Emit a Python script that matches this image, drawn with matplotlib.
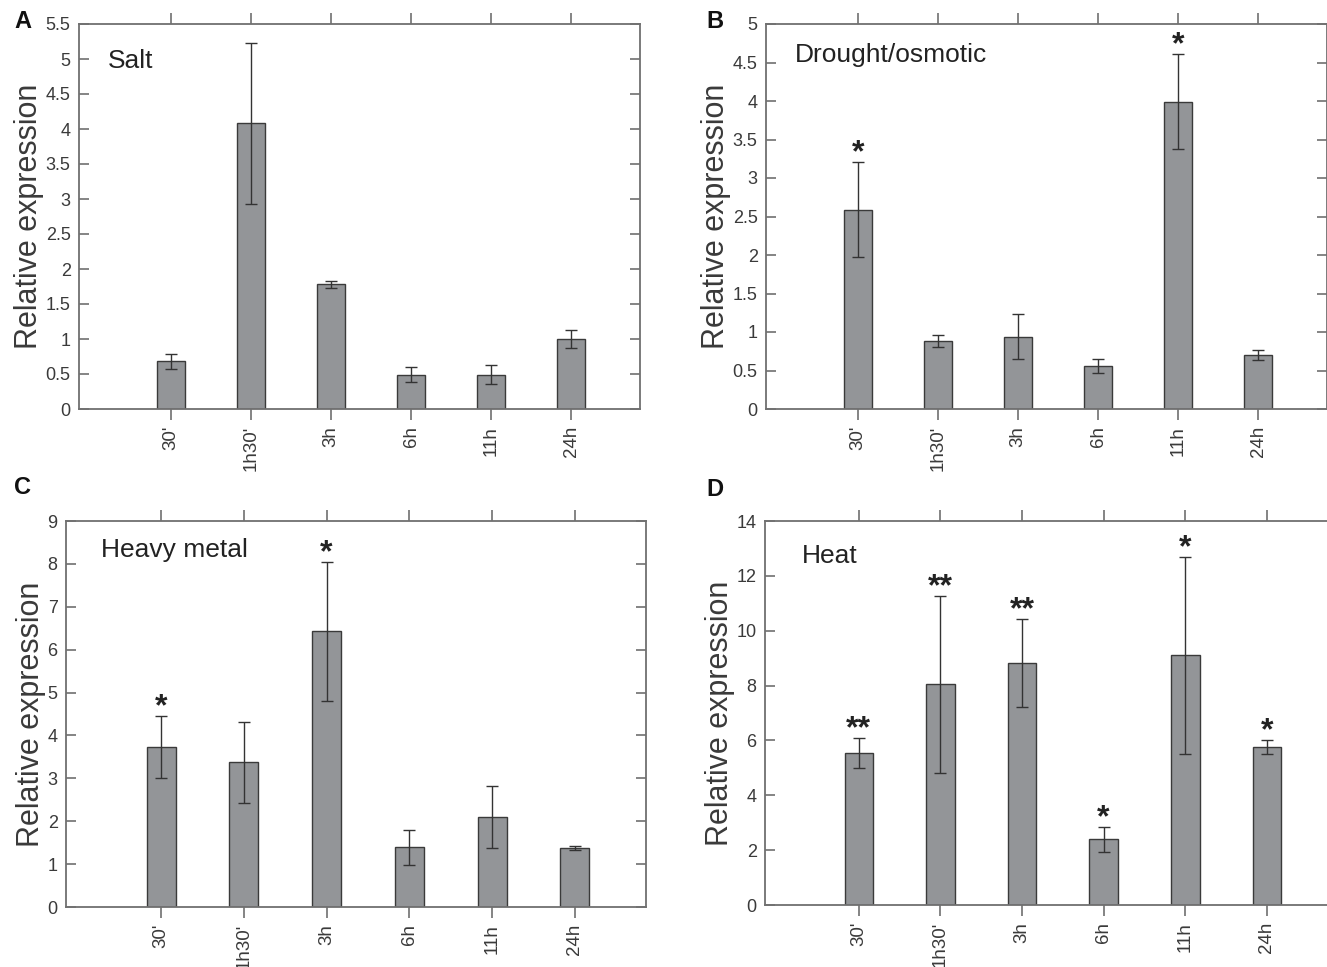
import matplotlib
matplotlib.use("Agg")
import matplotlib.pyplot as plt
import numpy as np

plt.rcParams['font.family'] = ['Liberation Sans', 'DejaVu Sans']

time_labels = ["30'", "1h30'", "3h", "6h", "11h", "24h"]

salt_vals = [0.68, 4.08, 1.78, 0.49, 0.49, 1.00]
salt_err = [0.11, 1.15, 0.045, 0.11, 0.135, 0.13]
salt_stars = ["", "", "", "", "", ""]

drought_vals = [2.59, 0.88, 0.94, 0.56, 3.99, 0.70]
drought_err = [0.62, 0.075, 0.29, 0.095, 0.615, 0.07]
drought_stars = ["*", "", "", "", "*", ""]

metal_vals = [3.73, 3.37, 6.43, 1.39, 2.09, 1.37]
metal_err = [0.715, 0.95, 1.62, 0.405, 0.725, 0.05]
metal_stars = ["*", "", "*", "", "", ""]

heat_vals = [5.55, 8.05, 8.82, 2.40, 9.10, 5.76]
heat_err = [0.54, 3.23, 1.60, 0.45, 3.60, 0.25]
heat_stars = ["**", "**", "**", "*", "*", "*"]

W, H = 1327, 967
fig = plt.figure(figsize=(W / 100, H / 100), dpi=100)

def px_axes(l, r, t, b):
    return fig.add_axes([l / W, 1 - b / H, (r - l) / W, (b - t) / H])

panels = [
    dict(box=(79, 640, 24, 409), vals=salt_vals, err=salt_err, stars=salt_stars,
         ymax=5.5, yticks=np.arange(0, 5.51, 0.5), title="Salt", tpos=(0.052, 0.905),
         letter="A", lpos=(14, 22)),
    dict(box=(766, 1327, 24, 409), vals=drought_vals, err=drought_err, stars=drought_stars,
         ymax=5, yticks=np.arange(0, 5.01, 0.5), title="Drought/osmotic", tpos=(0.052, 0.92),
         letter="B", lpos=(706, 22)),
    dict(box=(66, 646, 521, 907), vals=metal_vals, err=metal_err, stars=metal_stars,
         ymax=9, yticks=np.arange(0, 10, 1), title="Heavy metal", tpos=(0.06, 0.925),
         letter="C", lpos=(14, 488)),
    dict(box=(765, 1337, 521, 905), vals=heat_vals, err=heat_err, stars=heat_stars,
         ymax=14, yticks=np.arange(0, 15, 2), title="Heat", tpos=(0.065, 0.91),
         letter="D", lpos=(706, 490)),
]

spine_col = '#707070'
text_col = '#3a3a3a'
x = np.arange(1, len(time_labels) + 1)

for p in panels:
    ax = px_axes(*p['box'])
    ax.bar(x, p['vals'], width=0.35, color='#939598', edgecolor='#3a3a3a', linewidth=1.0,
           yerr=p['err'], error_kw=dict(ecolor='#333333', elinewidth=1.0, capsize=4, capthick=1.0))
    ax.set_xlim(-0.15, 6.86)
    ax.set_ylim(0, p['ymax'])
    ax.set_xticks(x)
    ax.set_xticklabels(time_labels, rotation=90, fontsize=13.5, color=text_col)
    ax.set_yticks(p['yticks'])
    ax.set_yticklabels([('%g' % v) for v in p['yticks']], fontsize=13, color=text_col)
    ax.tick_params(axis='x', which='both', top=True, bottom=True, direction='out',
                   length=8, width=1.2, color=spine_col, pad=4)
    ax.tick_params(axis='y', which='both', left=True, right=True, direction='in',
                   length=7, width=1.2, color=spine_col, pad=6)
    for s in ax.spines.values():
        s.set_color(spine_col)
        s.set_linewidth(1.3)
    ax.set_ylabel("Relative expression", fontsize=22, color=text_col, labelpad=1)
    ax.text(p['tpos'][0], p['tpos'][1], p['title'], transform=ax.transAxes,
            fontsize=19, color='#222222', va='center', ha='left')
    for xi, v, e, s in zip(x, p['vals'], p['err'], p['stars']):
        if s:
            ax.annotate(s, xy=(xi, v + e), xytext=(0, -4.5), textcoords='offset points',
                        ha='center', va='bottom', fontsize=23, fontweight='bold', color='#222222')
    fig.text(p['lpos'][0] / W, 1 - p['lpos'][1] / H, p['letter'], fontsize=17,
             fontweight='bold', color='#111111', ha='left', va='center')

fig.savefig('out.png', dpi=100)
